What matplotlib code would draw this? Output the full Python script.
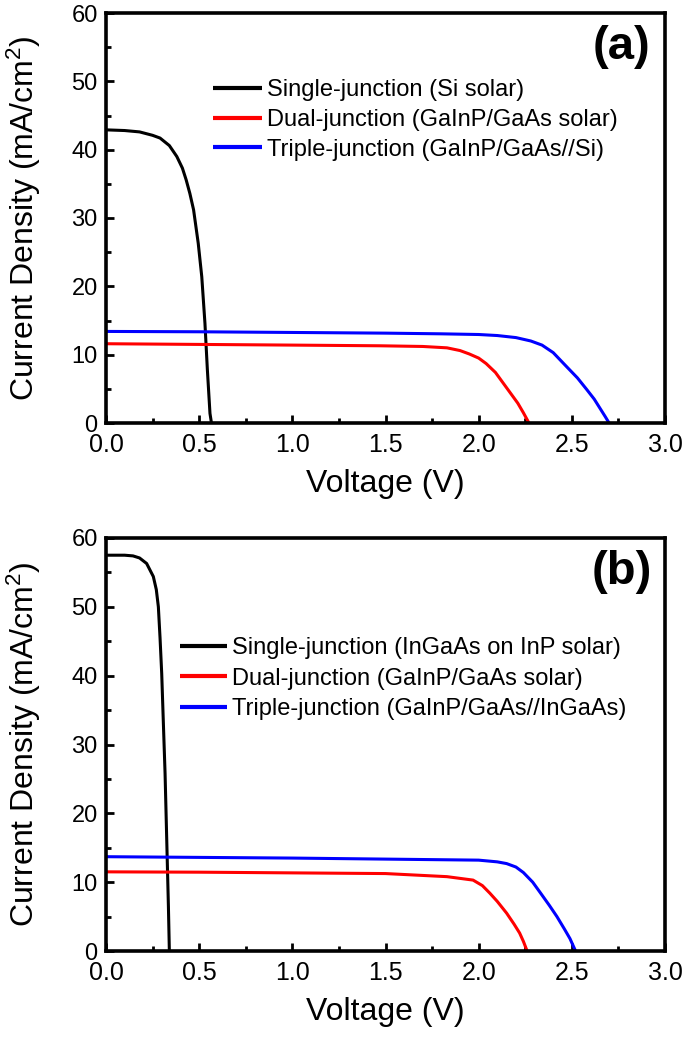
import matplotlib
matplotlib.use("Agg")
import matplotlib.pyplot as plt
from matplotlib.ticker import MultipleLocator, FormatStrFormatter

plt.rcParams['font.family'] = ['Liberation Sans', 'DejaVu Sans']
plt.rcParams['mathtext.fontset'] = 'custom'
plt.rcParams['mathtext.rm'] = 'Liberation Sans'
plt.rcParams['mathtext.it'] = 'Liberation Sans'

# ---- Panel (a) data ----
a_single_v = [0, 0.10, 0.18, 0.25, 0.29, 0.34, 0.38, 0.41, 0.43, 0.45, 0.47, 0.495, 0.514, 0.531, 0.544, 0.558, 0.566]
a_single_j = [42.9, 42.8, 42.6, 42.1, 41.7, 40.6, 39.0, 37.3, 35.6, 33.6, 31.2, 26.3, 21.4, 14.6, 7.8, 1.4, 0]
a_dual_v = [0, 0.5, 1.0, 1.47, 1.70, 1.83, 1.90, 1.95, 2.00, 2.04, 2.09, 2.13, 2.17, 2.21, 2.24, 2.27]
a_dual_j = [11.6, 11.5, 11.4, 11.3, 11.2, 11.0, 10.6, 10.1, 9.5, 8.7, 7.4, 5.9, 4.4, 2.9, 1.5, 0]
a_triple_v = [0, 0.5, 1.0, 1.5, 1.8, 2.0, 2.1, 2.2, 2.28, 2.34, 2.40, 2.47, 2.53, 2.58, 2.62, 2.65, 2.68, 2.70]
a_triple_j = [13.4, 13.35, 13.25, 13.15, 13.05, 12.95, 12.8, 12.5, 12.0, 11.4, 10.3, 8.3, 6.6, 4.9, 3.5, 2.2, 0.9, 0]
a_labels = ['Single-junction (Si solar)',
            'Dual-junction (GaInP/GaAs solar)',
            'Triple-junction (GaInP/GaAs//Si)']

# ---- Panel (b) data ----
b_single_v = [0, 0.10, 0.145, 0.18, 0.218, 0.254, 0.27, 0.281, 0.29, 0.299, 0.308, 0.317, 0.326, 0.335, 0.340]
b_single_j = [57.5, 57.5, 57.4, 57.1, 56.3, 54.4, 52.5, 50.0, 45.5, 40.3, 33.0, 25.8, 16.1, 6.4, 0]
b_dual_v = [0, 0.5, 1.0, 1.5, 1.83, 1.97, 2.02, 2.06, 2.10, 2.15, 2.19, 2.22, 2.24, 2.26]
b_dual_j = [11.5, 11.45, 11.35, 11.25, 10.8, 10.3, 9.5, 8.4, 7.2, 5.5, 3.9, 2.6, 1.4, 0]
b_triple_v = [0, 0.5, 1.0, 1.5, 2.0, 2.1, 2.15, 2.2, 2.24, 2.29, 2.33, 2.38, 2.42, 2.46, 2.49, 2.52]
b_triple_j = [13.7, 13.6, 13.5, 13.35, 13.2, 12.95, 12.7, 12.2, 11.4, 10.0, 8.5, 6.6, 5.0, 3.2, 1.8, 0]
b_labels = ['Single-junction (InGaAs on InP solar)',
            'Dual-junction (GaInP/GaAs solar)',
            'Triple-junction (GaInP/GaAs//InGaAs)']

colors = ['black', '#ff0000', '#0000ff']
x_ticks = [0.0, 0.5, 1.0, 1.5, 2.0, 2.5, 3.0]
y_ticks = [0, 10, 20, 30, 40, 50, 60]

fig = plt.figure(figsize=(6.85, 10.38), dpi=100)
W, H = 685, 1038
ax_a = fig.add_axes([106 / W, 1 - 423 / H, 559 / W, 410 / H])
ax_b = fig.add_axes([106 / W, 1 - 951 / H, 559 / W, 413 / H])

panels = [
    (ax_a, [(a_single_v, a_single_j), (a_dual_v, a_dual_j), (a_triple_v, a_triple_j)],
     a_labels, '(a)', (0.191, 0.839), 2.08, 0.33),
    (ax_b, [(b_single_v, b_single_j), (b_dual_v, b_dual_j), (b_triple_v, b_triple_j)],
     b_labels, '(b)', (0.132, 0.760), 2.0, 0.36),
]

for ax, series, labels, tag, lpos, hlen, lsp in panels:
    for (v, j), c, lab in zip(series, colors, labels):
        ax.plot(v, j, color=c, lw=2.2, label=lab, solid_capstyle='butt')
    ax.set_xlim(0, 3.0)
    ax.set_ylim(0, 60)
    ax.set_xticks(x_ticks)
    ax.set_yticks(y_ticks)
    ax.xaxis.set_major_formatter(FormatStrFormatter('%.1f'))
    ax.xaxis.set_minor_locator(MultipleLocator(0.25))
    ax.yaxis.set_minor_locator(MultipleLocator(5))
    ax.tick_params(which='both', direction='in', width=2.0)
    ax.tick_params(axis='x', labelsize=18, pad=7)
    ax.tick_params(axis='y', labelsize=17, pad=6)
    ax.tick_params(which='major', length=5.5)
    ax.tick_params(which='minor', length=3.5)
    for s in ax.spines.values():
        s.set_linewidth(2.6)
    ax.set_xlabel('Voltage (V)', fontsize=23)
    ax.set_ylabel('Current Density (mA/cm$^2$)', fontsize=23)
    ax.xaxis.set_label_coords(0.5, -0.112)
    ax.yaxis.set_label_coords(-0.112, 0.5)
    ax.text(0.922, 0.917, tag, transform=ax.transAxes, ha='center', va='center',
            fontsize=34, fontweight='bold')
    leg = ax.legend(loc='upper left', bbox_to_anchor=lpos, frameon=False,
                    fontsize=17, handlelength=hlen, handletextpad=0.2,
                    labelspacing=lsp, borderpad=0, borderaxespad=0)
    for lh in leg.get_lines():
        lh.set_linewidth(3)

fig.savefig('out.png', dpi=100)
